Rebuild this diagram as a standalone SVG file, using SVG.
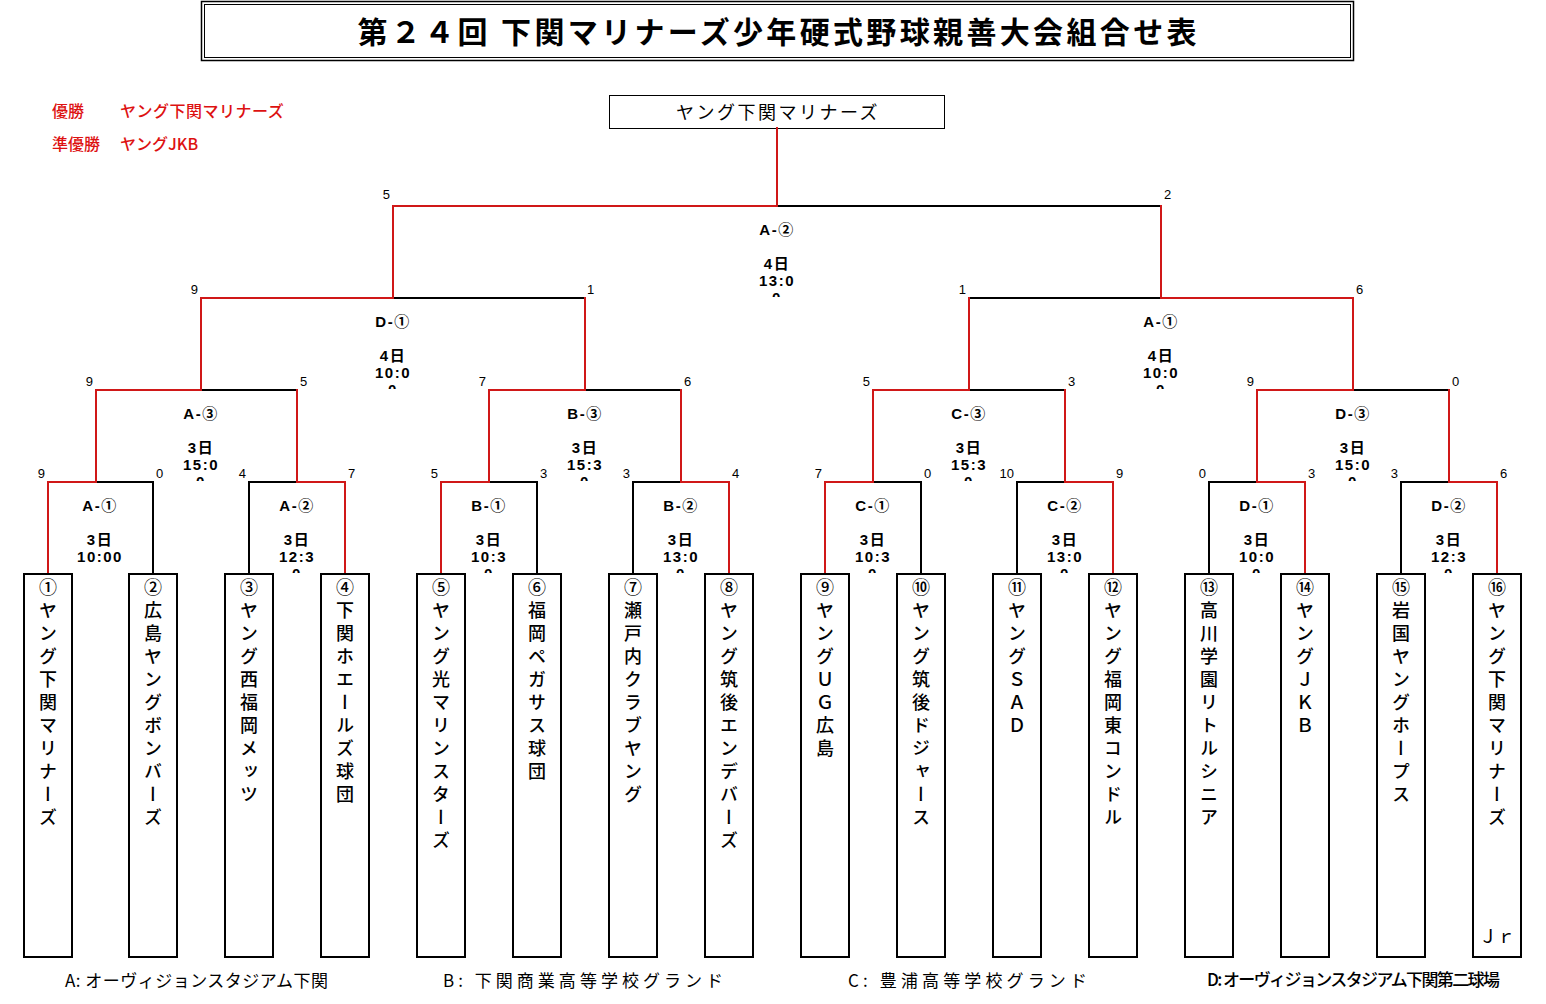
<svg xmlns="http://www.w3.org/2000/svg" width="1546" height="1004" viewBox="0 0 1546 1004">
<style>
.bg{fill:#fff}
.ln{fill:none;stroke-width:2;stroke-linecap:square;stroke-linejoin:miter}
.k{stroke:#000}
.r{stroke:#d01818}
.box{fill:#fff;stroke:#000;stroke-width:2}
.sc{font-family:"Liberation Sans","Noto Sans CJK JP",sans-serif;font-size:13px;fill:#000}
.sl{text-anchor:end}
.lb{font-family:"Liberation Sans","Noto Sans CJK JP",sans-serif;font-size:15px;font-weight:bold;text-anchor:middle;fill:#000;letter-spacing:1.5px}
.team{font-family:"Noto Sans CJK JP",sans-serif;font-size:18px;font-weight:500;writing-mode:vertical-rl;letter-spacing:5px;fill:#000}
.ven{font-family:"Noto Sans CJK JP",sans-serif;font-size:17px;fill:#000}
.leg{font-family:"Noto Sans CJK JP",sans-serif;font-size:16px;font-weight:500;fill:#dd1111}
</style>
<defs>
<clipPath id="c1"><rect x="0" y="0" width="1546" height="573"/></clipPath>
<clipPath id="c2"><rect x="0" y="0" width="1546" height="481"/></clipPath>
<clipPath id="c3"><rect x="0" y="0" width="1546" height="389"/></clipPath>
<clipPath id="c4"><rect x="0" y="0" width="1546" height="297"/></clipPath>
</defs>
<rect class="bg" x="0" y="0" width="1546" height="1004"/>

<g id="title">
<rect x="201.5" y="1.5" width="1152" height="59" fill="none" stroke="#000" stroke-width="1.5"/>
<rect x="204.5" y="4.5" width="1146" height="53" fill="none" stroke="#000" stroke-width="1"/>
<text x="777" y="43" text-anchor="middle" font-family="'Noto Sans CJK JP',sans-serif" font-size="30" font-weight="bold" textLength="839" lengthAdjust="spacing">第２４回 下関マリナーズ少年硬式野球親善大会組合せ表</text>
</g>

<g id="legend">
<text class="leg" x="52" y="117">優勝</text>
<text class="leg" x="120" y="117" letter-spacing="0.5">ヤング下関マリナーズ</text>
<text class="leg" x="52" y="150">準優勝</text>
<text class="leg" x="120" y="150">ヤングJKB</text>
</g>

<g id="champion">
<rect x="609.5" y="95.5" width="335" height="33" fill="#fff" stroke="#000" stroke-width="1"/>
<text x="778" y="119" text-anchor="middle" font-family="'Noto Sans CJK JP',sans-serif" font-size="18" letter-spacing="2.5">ヤング下関マリナーズ</text>
</g>

<g id="connectors">
<g class="ln k">
<path d="M153 574V482H96"/>
<path d="M249 574V482H297"/>
<path d="M537 574V482H489"/>
<path d="M633 574V482H681"/>
<path d="M921 574V482H873"/>
<path d="M1017 574V482H1065"/>
<path d="M1209 574V482H1257"/>
<path d="M1401 574V482H1449"/>
<path d="M201 390H297"/>
<path d="M585 390H681"/>
<path d="M969 390H1065"/>
<path d="M1353 390H1449"/>
<path d="M393 298H585"/>
<path d="M969 298H1161"/>
<path d="M777 206H1161"/>
</g>
<g class="ln r">
<path d="M48 574V482H96V390H201V298H393V206H777V128"/>
<path d="M345 574V482H297V390"/>
<path d="M441 574V482H489V390H585V298"/>
<path d="M729 574V482H681V390"/>
<path d="M825 574V482H873V390H969V298"/>
<path d="M1113 574V482H1065V390"/>
<path d="M1305 574V482H1257V390H1353V298H1161V206"/>
<path d="M1497 574V482H1449V390"/>
</g>
</g>

<g id="scores" class="sc">
<text class="sl" x="390" y="199">5</text><text x="1164" y="199">2</text>
<text class="sl" x="198" y="294">9</text><text x="587" y="294">1</text>
<text class="sl" x="966" y="294">1</text><text x="1356" y="294">6</text>
<text class="sl" x="93" y="386">9</text><text x="300" y="386">5</text>
<text class="sl" x="486" y="386">7</text><text x="684" y="386">6</text>
<text class="sl" x="870" y="386">5</text><text x="1068" y="386">3</text>
<text class="sl" x="1254" y="386">9</text><text x="1452" y="386">0</text>
<text class="sl" x="45" y="478">9</text><text x="156" y="478">0</text>
<text class="sl" x="246" y="478">4</text><text x="348" y="478">7</text>
<text class="sl" x="438" y="478">5</text><text x="540" y="478">3</text>
<text class="sl" x="630" y="478">3</text><text x="732" y="478">4</text>
<text class="sl" x="822" y="478">7</text><text x="924" y="478">0</text>
<text class="sl" x="1014" y="478">10</text><text x="1116" y="478">9</text>
<text class="sl" x="1206" y="478">0</text><text x="1308" y="478">3</text>
<text class="sl" x="1398" y="478">3</text><text x="1500" y="478">6</text>
</g>

<g id="match-labels">
<g clip-path="url(#c4)">
<g id="m-final"><text class="lb" x="777" y="235">A-②</text><text class="lb" x="777" y="269">4日</text><text class="lb" x="777" y="286">13:0</text><text class="lb" x="777" y="303">0</text></g>
</g>
<g clip-path="url(#c3)">
<g id="m-semi1"><text class="lb" x="393" y="327">D-①</text><text class="lb" x="393" y="361">4日</text><text class="lb" x="393" y="378">10:0</text><text class="lb" x="393" y="395">0</text></g>
<g id="m-semi2"><text class="lb" x="1161" y="327">A-①</text><text class="lb" x="1161" y="361">4日</text><text class="lb" x="1161" y="378">10:0</text><text class="lb" x="1161" y="395">0</text></g>
</g>
<g clip-path="url(#c2)">
<g id="m-a3"><text class="lb" x="201" y="419">A-③</text><text class="lb" x="201" y="453">3日</text><text class="lb" x="201" y="470">15:0</text><text class="lb" x="201" y="487">0</text></g>
<g id="m-b3"><text class="lb" x="585" y="419">B-③</text><text class="lb" x="585" y="453">3日</text><text class="lb" x="585" y="470">15:3</text><text class="lb" x="585" y="487">0</text></g>
<g id="m-c3"><text class="lb" x="969" y="419">C-③</text><text class="lb" x="969" y="453">3日</text><text class="lb" x="969" y="470">15:3</text><text class="lb" x="969" y="487">0</text></g>
<g id="m-d3"><text class="lb" x="1353" y="419">D-③</text><text class="lb" x="1353" y="453">3日</text><text class="lb" x="1353" y="470">15:0</text><text class="lb" x="1353" y="487">0</text></g>
</g>
<g clip-path="url(#c1)">
<g id="m-a1"><text class="lb" x="100" y="511">A-①</text><text class="lb" x="100" y="545">3日</text><text class="lb" x="100" y="562">10:00</text></g>
<g id="m-a2"><text class="lb" x="297" y="511">A-②</text><text class="lb" x="297" y="545">3日</text><text class="lb" x="297" y="562">12:3</text><text class="lb" x="297" y="579">0</text></g>
<g id="m-b1"><text class="lb" x="489" y="511">B-①</text><text class="lb" x="489" y="545">3日</text><text class="lb" x="489" y="562">10:3</text><text class="lb" x="489" y="579">0</text></g>
<g id="m-b2"><text class="lb" x="681" y="511">B-②</text><text class="lb" x="681" y="545">3日</text><text class="lb" x="681" y="562">13:0</text><text class="lb" x="681" y="579">0</text></g>
<g id="m-c1"><text class="lb" x="873" y="511">C-①</text><text class="lb" x="873" y="545">3日</text><text class="lb" x="873" y="562">10:3</text><text class="lb" x="873" y="579">0</text></g>
<g id="m-c2"><text class="lb" x="1065" y="511">C-②</text><text class="lb" x="1065" y="545">3日</text><text class="lb" x="1065" y="562">13:0</text><text class="lb" x="1065" y="579">0</text></g>
<g id="m-d1"><text class="lb" x="1257" y="511">D-①</text><text class="lb" x="1257" y="545">3日</text><text class="lb" x="1257" y="562">10:0</text><text class="lb" x="1257" y="579">0</text></g>
<g id="m-d2"><text class="lb" x="1449" y="511">D-②</text><text class="lb" x="1449" y="545">3日</text><text class="lb" x="1449" y="562">12:3</text><text class="lb" x="1449" y="579">0</text></g>
</g>
</g>

<g id="team1"><rect class="box" x="24" y="574" width="48" height="383"/><text class="team" x="48" y="578">①ヤング下関マリナーズ</text></g>
<g id="team2"><rect class="box" x="129" y="574" width="48" height="383"/><text class="team" x="153" y="578">②広島ヤングボンバーズ</text></g>
<g id="team3"><rect class="box" x="225" y="574" width="48" height="383"/><text class="team" x="249" y="578">③ヤング西福岡メッツ</text></g>
<g id="team4"><rect class="box" x="321" y="574" width="48" height="383"/><text class="team" x="345" y="578">④下関ホエールズ球団</text></g>
<g id="team5"><rect class="box" x="417" y="574" width="48" height="383"/><text class="team" x="441" y="578">⑤ヤング光マリンスターズ</text></g>
<g id="team6"><rect class="box" x="513" y="574" width="48" height="383"/><text class="team" x="537" y="578">⑥福岡ペガサス球団</text></g>
<g id="team7"><rect class="box" x="609" y="574" width="48" height="383"/><text class="team" x="633" y="578">⑦瀬戸内クラブヤング</text></g>
<g id="team8"><rect class="box" x="705" y="574" width="48" height="383"/><text class="team" x="729" y="578">⑧ヤング筑後エンデバーズ</text></g>
<g id="team9"><rect class="box" x="801" y="574" width="48" height="383"/><text class="team" x="825" y="578">⑨ヤングＵＧ広島</text></g>
<g id="team10"><rect class="box" x="897" y="574" width="48" height="383"/><text class="team" x="921" y="578">⑩ヤング筑後ドジャース</text></g>
<g id="team11"><rect class="box" x="993" y="574" width="48" height="383"/><text class="team" x="1017" y="578">⑪ヤングＳＡＤ</text></g>
<g id="team12"><rect class="box" x="1089" y="574" width="48" height="383"/><text class="team" x="1113" y="578">⑫ヤング福岡東コンドル</text></g>
<g id="team13"><rect class="box" x="1185" y="574" width="48" height="383"/><text class="team" x="1209" y="578">⑬高川学園リトルシニア</text></g>
<g id="team14"><rect class="box" x="1281" y="574" width="48" height="383"/><text class="team" x="1305" y="578">⑭ヤングＪＫＢ</text></g>
<g id="team15"><rect class="box" x="1377" y="574" width="48" height="383"/><text class="team" x="1401" y="578">⑮岩国ヤングホープス</text></g>
<g id="team16"><rect class="box" x="1473" y="574" width="48" height="383"/><text class="team" x="1497" y="578">⑯ヤング下関マリナーズ</text><text x="1497" y="943" text-anchor="middle" font-family="'Noto Sans CJK JP',sans-serif" font-size="18">Ｊｒ</text></g>

<g id="venues">
<text class="ven" x="65" y="987" textLength="263" lengthAdjust="spacing">A: オーヴィジョンスタジアム下関</text>
<text class="ven" x="443" y="987" textLength="280" lengthAdjust="spacing">B: 下関商業高等学校グランド</text>
<text class="ven" x="848" y="987" textLength="239" lengthAdjust="spacing">C: 豊浦高等学校グランド</text>
<text class="ven" x="1207" y="986" font-size="15" font-weight="500" textLength="293" lengthAdjust="spacing">D: オーヴィジョンスタジアム下関第二球場</text>
</g>
</svg>
